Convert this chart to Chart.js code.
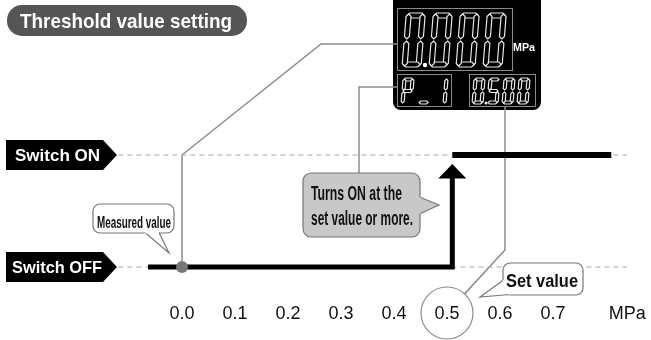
<!DOCTYPE html>
<html>
<head>
<meta charset="utf-8">
<script src="https://cdn.jsdelivr.net/npm/chart.js@4"></script>
<style>
  body { margin: 0; background: #fff; }
  #chart { display: block; }
</style>
</head>
<body>
<canvas id="chart" width="651" height="340"></canvas>
<script>
// Axis ticks (MPa)
const tickValues = [0, 0.1, 0.2, 0.3, 0.4, 0.5, 0.6, 0.7, 0.84];
const tickLabels = ['0.0', '0.1', '0.2', '0.3', '0.4', '0.5', '0.6', '0.7', 'MPa'];

// Switch states: OFF = 0, ON = 1
const guideX = [-0.12, 0.84];          // dashed guide lines
const offX = [-0.064, 0.51];           // output OFF segment
const riseTop = 0.8;                   // arrow shaft top
const arrowTip = 0.92;
const onX = [0.51, 0.81];              // output ON segment
const measuredValue = 0.0;
const setValue = 0.5;

const FONT = '"Liberation Sans", Arial, sans-serif';

// draw text squeezed to a given width (condensed look)
function fitText(ctx, text, x, y, size, width, color) {
    ctx.save();
    ctx.font = 'bold ' + size + 'px ' + FONT;
    const w = ctx.measureText(text).width;
    ctx.translate(x, y);
    ctx.scale(width / w, 1);
    ctx.fillStyle = color;
    ctx.textBaseline = 'alphabetic';
    ctx.fillText(text, 0, 0);
    ctx.restore();
}

function roundRect(ctx, x, y, w, h, r) {
    ctx.beginPath();
    ctx.moveTo(x + r, y);
    ctx.lineTo(x + w - r, y);
    ctx.arcTo(x + w, y, x + w, y + r, r);
    ctx.lineTo(x + w, y + h - r);
    ctx.arcTo(x + w, y + h, x + w - r, y + h, r);
    ctx.lineTo(x + r, y + h);
    ctx.arcTo(x, y + h, x, y + h - r, r);
    ctx.lineTo(x, y + r);
    ctx.arcTo(x, y, x + r, y, r);
    ctx.closePath();
}

// 7-segment digits
const SEGS = {
    '0': 'abcdef', '1': 'bc', '5': 'afgcd', 'P': 'abefg', '_': 'd'
};

function drawDigit(ctx, ch, x, y, w, h, t) {
    const segs = SEGS[ch] || '';
    const slant = 0.08;
    const g = 1;
    const h2 = t / 2;
    const P = (px, py) => [x + px + slant * (h - py), y + py];
    const horiz = (yy) => [P(g, yy), P(g + h2, yy - h2), P(w - g - h2, yy - h2), P(w - g, yy), P(w - g - h2, yy + h2), P(g + h2, yy + h2)];
    const vert = (xx, y0, y1) => [P(xx, y0), P(xx + h2, y0 + h2), P(xx + h2, y1 - h2), P(xx, y1), P(xx - h2, y1 - h2), P(xx - h2, y0 + h2)];
    const shapes = {
        a: horiz(h2), d: horiz(h - h2), g: horiz(h / 2),
        b: vert(w - h2, g, h / 2 - g), c: vert(w - h2, h / 2 + g, h - g),
        f: vert(h2, g, h / 2 - g), e: vert(h2, h / 2 + g, h - g)
    };
    ctx.save();
    ctx.strokeStyle = '#e8e8e8';
    ctx.lineWidth = 1.2;
    ctx.fillStyle = '#000';
    for (const s of segs) {
        const pts = shapes[s];
        ctx.beginPath();
        ctx.moveTo(pts[0][0], pts[0][1]);
        for (let i = 1; i < pts.length; i++) ctx.lineTo(pts[i][0], pts[i][1]);
        ctx.closePath();
        ctx.fill();
        ctx.stroke();
    }
    ctx.restore();
}

function drawDisplay(ctx) {
    ctx.save();
    ctx.fillStyle = '#000';
    roundRect(ctx, 393, -8, 148, 118, 8);
    ctx.fill();
    ctx.strokeStyle = '#8a8a8a';
    ctx.lineWidth = 1;
    ctx.strokeRect(397.5, 8.5, 115, 62);
    ctx.strokeRect(397.5, 74.5, 54, 32);
    ctx.strokeRect(469.5, 74.5, 66, 32);

    ['0', '0', '0', '0'].forEach((c, i) => drawDigit(ctx, c, 402 + i * 27, 13, 19, 54, 5));
    ['P', '_', '1'].forEach((c, i) => drawDigit(ctx, c, 401 + i * 17, 78, 11, 26, 3));
    ['0', '5', '0', '0'].forEach((c, i) => drawDigit(ctx, c, 472 + i * 15, 78, 11, 26, 3));

    ctx.fillStyle = '#fff';
    ctx.beginPath(); ctx.arc(425, 65, 2.2, 0, Math.PI * 2); ctx.fill();
    ctx.beginPath(); ctx.arc(486, 103, 1.5, 0, Math.PI * 2); ctx.fill();
    fitText(ctx, 'MPa', 513, 51, 11, 22, '#fff');
    ctx.restore();
}

function switchLabel(ctx, text, cy, tx, tw) {
    ctx.save();
    ctx.fillStyle = '#000';
    ctx.beginPath();
    ctx.moveTo(6, cy - 15);
    ctx.lineTo(103, cy - 15);
    ctx.lineTo(117, cy);
    ctx.lineTo(103, cy + 15);
    ctx.lineTo(6, cy + 15);
    ctx.closePath();
    ctx.fill();
    ctx.restore();
    fitText(ctx, text, tx, cy + 6, 17, tw, '#fff');
}

const decorBefore = {
    id: 'decorBefore',
    beforeDatasetsDraw(chart) {
        const ctx = chart.ctx;
        const xs = chart.scales.x, ys = chart.scales.y;

        // title pill
        ctx.save();
        ctx.fillStyle = '#555';
        roundRect(ctx, 7, 5, 240, 31, 15);
        ctx.fill();
        ctx.restore();
        fitText(ctx, 'Threshold value setting', 20, 28, 21, 212, '#fff');

        switchLabel(ctx, 'Switch ON', ys.getPixelForValue(1), 15, 85);
        switchLabel(ctx, 'Switch OFF', ys.getPixelForValue(0), 12, 90);

        drawDisplay(ctx);

        // leader lines
        ctx.save();
        ctx.strokeStyle = '#8c8c8c';
        ctx.lineWidth = 1.5;
        const mx = xs.getPixelForValue(measuredValue);
        ctx.beginPath();
        ctx.moveTo(mx, ys.getPixelForValue(0));
        ctx.lineTo(mx, ys.getPixelForValue(1));
        ctx.lineTo(321, 44);
        ctx.lineTo(397, 44);
        ctx.stroke();

        ctx.beginPath();
        ctx.moveTo(397, 87);
        ctx.lineTo(359, 87);
        ctx.lineTo(359, 174);
        ctx.stroke();

        // circle around set value tick
        const cx = xs.getPixelForValue(setValue), cy = 313;
        ctx.lineWidth = 1.2;
        ctx.beginPath();
        ctx.arc(cx, cy, 26, 0, Math.PI * 2);
        ctx.stroke();

        const dx = 505 - cx, dy = 250 - cy, d = Math.hypot(dx, dy);
        ctx.lineWidth = 1.5;
        ctx.beginPath();
        ctx.moveTo(505, 106);
        ctx.lineTo(505, 250);
        ctx.lineTo(cx + dx / d * 26, cy + dy / d * 26);
        ctx.stroke();
        ctx.restore();
    }
};

function callout(ctx, x, y, w, h, r, fill, tail) {
    ctx.save();
    ctx.fillStyle = fill;
    ctx.strokeStyle = '#777';
    ctx.lineWidth = 1.2;
    roundRect(ctx, x, y, w, h, r);
    ctx.fill();
    ctx.stroke();
    // tail
    ctx.beginPath();
    ctx.moveTo(tail[0][0], tail[0][1]);
    ctx.lineTo(tail[1][0], tail[1][1]);
    ctx.lineTo(tail[2][0], tail[2][1]);
    ctx.fill();
    ctx.stroke();
    // cover the border under the tail base
    ctx.strokeStyle = fill;
    ctx.lineWidth = 2;
    ctx.beginPath();
    ctx.moveTo(tail[0][0], tail[0][1]);
    ctx.lineTo(tail[2][0], tail[2][1]);
    ctx.stroke();
    ctx.restore();
}

const decorAfter = {
    id: 'decorAfter',
    afterDatasetsDraw(chart) {
        const ctx = chart.ctx;
        const xs = chart.scales.x, ys = chart.scales.y;

        // arrow head
        const ax = xs.getPixelForValue(offX[1]);
        const base = ys.getPixelForValue(riseTop), tip = ys.getPixelForValue(arrowTip);
        ctx.save();
        ctx.fillStyle = '#000';
        ctx.beginPath();
        ctx.moveTo(ax - 14, base + 1);
        ctx.lineTo(ax, tip);
        ctx.lineTo(ax + 14, base + 1);
        ctx.closePath();
        ctx.fill();
        ctx.restore();

        callout(ctx, 93, 204, 81, 29, 7, '#fff', [[145, 232.5], [169, 253], [159, 232.5]]);
        fitText(ctx, 'Measured value', 97, 228, 17, 74, '#111');

        callout(ctx, 303, 173, 117, 64, 8, '#c8c8c8', [[419.5, 197], [439, 205], [419.5, 214]]);
        fitText(ctx, 'Turns ON at the', 311, 200, 20, 91, '#111');
        fitText(ctx, 'set value or more.', 311, 225, 20, 102, '#111');

        callout(ctx, 503, 263, 80, 32, 7, '#fff', [[503.5, 280], [480, 297], [510, 294.5]]);
        fitText(ctx, 'Set value', 506, 287, 19, 72, '#111');
    }
};

const lineStyle = { showLine: true, pointRadius: 0, fill: false, borderCapStyle: 'butt', borderJoinStyle: 'miter' };

new Chart(document.getElementById('chart'), {
    type: 'scatter',
    data: {
        datasets: [
            {
                ...lineStyle,
                order: 10,
                data: [{ x: guideX[0], y: 1 }, { x: guideX[1], y: 1 }],
                borderColor: '#a8a8a8', borderWidth: 1, borderDash: [5, 4]
            },
            {
                ...lineStyle,
                order: 10,
                data: [{ x: guideX[0], y: 0 }, { x: guideX[1], y: 0 }],
                borderColor: '#a8a8a8', borderWidth: 1, borderDash: [5, 4]
            },
            {
                ...lineStyle,
                order: 2,
                data: [{ x: offX[0], y: 0 }, { x: offX[1], y: 0 }, { x: offX[1], y: riseTop }],
                borderColor: '#000', borderWidth: 5
            },
            {
                ...lineStyle,
                order: 2,
                data: [{ x: onX[0], y: 1 }, { x: onX[1], y: 1 }],
                borderColor: '#000', borderWidth: 6
            },
            {
                order: 0,
                data: [{ x: measuredValue, y: 0 }],
                showLine: false,
                pointRadius: 6,
                pointBackgroundColor: '#777',
                pointBorderWidth: 0
            }
        ]
    },
    options: {
        responsive: false,
        animation: false,
        events: [],
        layout: { padding: 0, autoPadding: false },
        plugins: { legend: { display: false }, tooltip: { enabled: false } },
        scales: {
            x: {
                type: 'linear',
                min: -0.3434,
                max: 0.8849,
                grid: { display: false, drawTicks: false },
                border: { display: false },
                afterBuildTicks: (scale) => { scale.ticks = tickValues.map(v => ({ value: v })); },
                afterFit: (scale) => {
                    scale.height = 50;
                    scale.paddingLeft = 0;
                    scale.paddingRight = 0;
                },
                ticks: {
                    autoSkip: false,
                    maxRotation: 0,
                    padding: 13,
                    color: '#111',
                    font: { family: FONT, size: 18 },
                    callback: (v) => {
                        const i = tickValues.findIndex(t => Math.abs(t - v) < 1e-6);
                        return i >= 0 ? tickLabels[i] : '';
                    }
                }
            },
            y: {
                display: false,
                min: -0.2054,
                max: 2.384
            }
        }
    },
    plugins: [decorBefore, decorAfter]
});
</script>
</body>
</html>
